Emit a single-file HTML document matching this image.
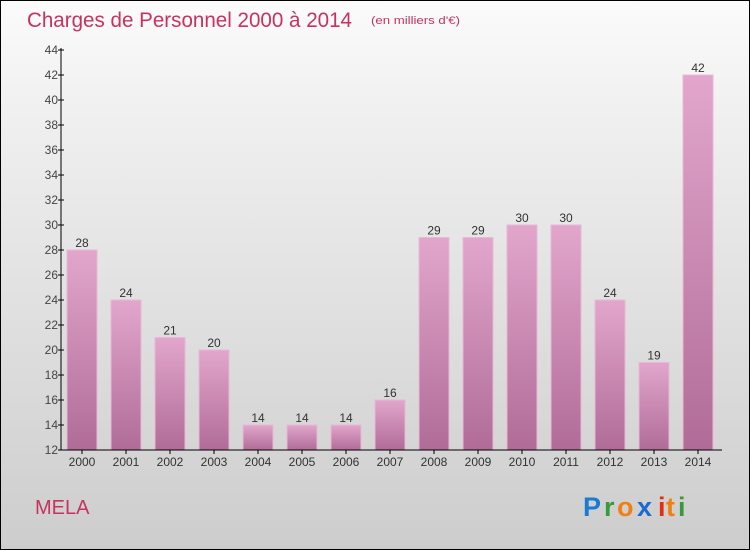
<!DOCTYPE html>
<html><head><meta charset="utf-8"><style>
body{margin:0;}
#c{width:750px;height:550px;position:relative;box-sizing:border-box;border:1px solid #000;background:linear-gradient(#fbfbfb,#f0f0f0 20%,#cdcdcd);font-family:"Liberation Sans",sans-serif;overflow:hidden}
</style></head><body>
<div id="c">
<svg width="750" height="550" style="position:absolute;left:-1px;top:-1px">
<defs><linearGradient id="bg" x1="0" y1="0" x2="0" y2="1"><stop offset="0" stop-color="#e2a6cc"/><stop offset="1" stop-color="#b06c97"/></linearGradient></defs>
<text x="27" y="27" font-size="21" fill="#c8325e" textLength="325" lengthAdjust="spacingAndGlyphs">Charges de Personnel 2000 à 2014</text>
<text x="371" y="24" font-size="11" fill="#c8325e" textLength="89" lengthAdjust="spacingAndGlyphs">(en milliers d'€)</text>
<text x="35" y="514" font-size="20" fill="#c8325e">MELA</text>
<g font-size="27" font-weight="bold">
<text x="583" y="516" fill="#1a7ad4">P</text><text x="604" y="516" fill="#3a9a3a">r</text><text x="617" y="516" fill="#f08010">o</text><text x="637" y="516" fill="#1a6ad0">x</text><text x="658" y="516" fill="#e03010">i</text><text x="666" y="516" fill="#f08010">t</text><text x="678" y="516" fill="#3a9a3a">i</text></g>
<g id="plot"></g>
</svg></div>
<script>
const categories=["2000","2001","2002","2003","2004","2005","2006","2007","2008","2009","2010","2011","2012","2013","2014"];
const values=[28,24,21,20,14,14,14,16,29,29,30,30,24,19,42];
const yTicks=[12,14,16,18,20,22,24,26,28,30,32,34,36,38,40,42,44];
const NS="http://www.w3.org/2000/svg";
const g=document.getElementById('plot');
const y=v=>450-(v-12)*12.5;
const x=i=>82+i*44;
function el(t,a){const e=document.createElementNS(NS,t);for(const k in a)e.setAttribute(k,a[k]);g.appendChild(e);return e;}
values.forEach((v,i)=>{
const r=el('rect',{x:x(i)-15,y:y(v),width:30,height:450-y(v),fill:'url(#bg)',stroke:'#e8b8d6','stroke-width':1});


const t=el('text',{x:x(i),y:y(v)-3,'font-size':12,'text-anchor':'middle',fill:'#333'});t.textContent=v;


const c=el('text',{x:x(i),y:466,'font-size':12,'text-anchor':'middle',fill:'#333'});c.textContent=categories[i];


el('line',{x1:x(i),x2:x(i),y1:450,y2:454,stroke:'#000'});
});
yTicks.forEach(v=>{
el('line',{x1:58,x2:64,y1:y(v),y2:y(v),stroke:'#000'});
const t=el('text',{x:58,y:y(v)+4,'font-size':12,'text-anchor':'end',fill:'#444'});t.textContent=v;


});
const ya=el('line',{x1:61,x2:61,y1:48,y2:450,stroke:'#000'});


const xa=el('line',{x1:61,x2:722,y1:450,y2:450,stroke:'#000'});


</script>
</body></html>
